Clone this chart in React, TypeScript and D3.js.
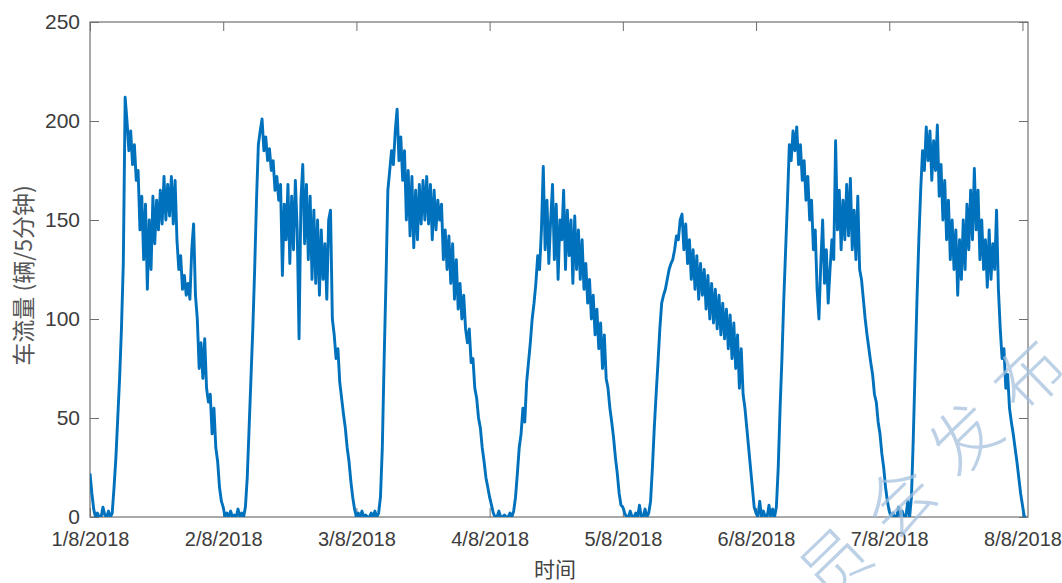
import { useEffect, useRef } from 'react'
import * as d3 from 'd3'

// 车流量 (辆/5分钟), every 20 minutes, one array per day
const day1 = [22, 12, 4, 0, 2, 0, 0, 5, 1, 0, 3, 0,
  2, 15, 30, 50, 70, 95, 128, 212, 200, 185,
  195, 178, 188, 170, 175, 145, 162, 130, 158, 115,
  150, 125, 162, 138, 160, 145, 165, 148, 172, 150,
  168, 152, 172, 148, 170, 140, 125, 132, 115, 122,
  112, 118, 110, 135, 148, 112, 100, 75, 88, 70,
  90, 65, 58, 62, 42, 55, 35, 28, 15, 8]
const day2 = [5, 0, 2, 0, 3, 0, 1, 0, 4, 0, 2, 0,
  5, 20, 45, 70, 95, 125, 160, 188, 195, 201,
  185, 192, 180, 186, 175, 180, 165, 172, 160, 168,
  122, 158, 140, 168, 128, 162, 135, 170, 145, 90,
  160, 178, 138, 168, 130, 162, 120, 155, 118, 150,
  112, 145, 120, 138, 110, 150, 155, 100, 92, 80,
  85, 68, 60, 52, 45, 35, 28, 18, 10, 4]
const day3 = [0, 2, 0, 3, 0, 1, 0, 0, 2, 0, 3, 0,
  2, 10, 35, 80, 120, 165, 175, 185, 178, 195,
  206, 180, 192, 170, 185, 150, 175, 142, 172, 136,
  165, 140, 168, 148, 170, 150, 172, 148, 168, 140,
  165, 145, 160, 150, 158, 130, 145, 125, 142, 118,
  138, 110, 130, 105, 118, 100, 112, 95, 88, 95,
  78, 80, 65, 60, 50, 45, 35, 28, 20, 15]
const day4 = [10, 6, 2, 0, 0, 3, 0, 0, 1, 0, 0, 2, 0, 3,
  10, 22, 35, 42, 55, 48, 68, 78,
  88, 100, 108, 118, 132, 125, 145, 177, 135, 160,
  128, 150, 168, 130, 158, 120, 150, 140, 165, 125,
  155, 132, 150, 118, 152, 125, 145, 120, 140, 115,
  128, 108, 120, 100, 112, 92, 105, 85, 98, 75,
  92, 70, 65, 55, 48, 40, 30, 22, 12, 6]
const day5 = [5, 2, 0, 0, 3, 0, 0, 2, 0, 6, 0, 0, 4, 0, 2,
  8, 25, 45, 62, 78, 95, 108,
  112, 115, 120, 125, 128, 130, 135, 142, 140, 150,
  153, 135, 148, 128, 140, 120, 135, 115, 132, 110,
  128, 112, 125, 105, 122, 100, 118, 98, 115, 95,
  112, 92, 108, 90, 105, 85, 102, 80, 98, 75,
  92, 65, 85, 62, 55, 45, 35, 25, 15, 5]
const day6 = [2, 0, 8, 0, 3, 0, 0, 6, 0, 4, 0,
  5, 25, 55, 80, 110, 135, 160, 188, 180, 195, 185,
  197, 178, 188, 170, 180, 160, 172, 150, 160, 135,
  145, 115, 100, 128, 150, 118, 135, 108, 125, 140,
  130, 190, 145, 165, 135, 160, 140, 168, 142, 171,
  135, 155, 130, 162, 125, 120, 110, 100, 92, 85,
  78, 72, 62, 58, 48, 42, 32, 25, 15, 8]
const day7 = [3, 0, 2, 0, 0, 5, 0, 3, 0, 0, 8, 0,
  10, 40, 75, 110, 140, 165, 185, 175, 197, 180,
  195, 170, 190, 175, 198, 162, 178, 150, 170, 140,
  160, 130, 150, 125, 145, 112, 140, 120, 150, 125,
  158, 135, 165, 140, 176, 145, 165, 130, 150, 125,
  140, 116, 145, 120, 138, 125, 155, 115, 95, 80,
  85, 65, 72, 55, 48, 42, 35, 28, 20, 12]
const day8 = [6, 0, 0]

const flow = [...day1, ...day2, ...day3, ...day4, ...day5, ...day6, ...day7, ...day8]
const yTicks = [0, 50, 100, 150, 200, 250]

export default function App() {
  const svgRef = useRef<SVGSVGElement>(null)

  useEffect(() => {
    if (!svgRef.current) return
    const svg = d3.select(svgRef.current)
    svg.selectAll('*').remove()

    const W = 1062
    const H = 583
    const margin = { top: 22, right: 34, bottom: 66, left: 90 }
    const width = W - margin.left - margin.right
    const height = H - margin.top - margin.bottom

    const start = new Date(2018, 7, 1, 0, 0)
    const end = new Date(2018, 7, 8, 1, 0)
    const points = flow.map((v, i) => ({ t: d3.timeMinute.offset(start, i * 20), v }))

    const x = d3.scaleTime().domain([start, end]).range([0, width])
    const y = d3.scaleLinear().domain([0, 250]).range([height, 0])

    const g = svg.append('g').attr('transform', `translate(${margin.left},${margin.top})`)

    g.append('clipPath').attr('id', 'plot-clip')
      .append('rect').attr('width', width).attr('height', height)

    const font = 'Liberation Sans, Arial, Helvetica, sans-serif'
    const tickColor = '#6e6e6e'
    const labelColor = '#3c3c3c'
    const dayTicks = d3.timeDay.range(start, d3.timeDay.offset(start, 8))
    const fmt = d3.timeFormat('%-d/%-m/%Y')

    // bottom axis with labels, ticks pointing inward
    const xAxis = g.append('g')
      .attr('transform', `translate(0,${height})`)
      .call(d3.axisBottom(x).tickValues(dayTicks).tickFormat(d => fmt(d as Date)).tickSize(-9).tickPadding(15))
    xAxis.select('.domain').remove()
    xAxis.selectAll('line').attr('stroke', tickColor)
    xAxis.selectAll('text')
      .style('font-family', font)
      .style('font-size', '20px')
      .style('fill', labelColor)

    // top axis, ticks only
    const xTop = g.append('g')
      .call(d3.axisTop(x).tickValues(dayTicks).tickFormat(() => '').tickSize(-9))
    xTop.select('.domain').remove()
    xTop.selectAll('line').attr('stroke', tickColor)

    const yAxis = g.append('g')
      .call(d3.axisLeft(y).tickValues(yTicks).tickSize(-9).tickPadding(10))
    yAxis.select('.domain').remove()
    yAxis.selectAll('line').attr('stroke', tickColor)
    yAxis.selectAll('text')
      .style('font-family', font)
      .style('font-size', '21px')
      .style('fill', labelColor)

    const yRight = g.append('g')
      .attr('transform', `translate(${width},0)`)
      .call(d3.axisRight(y).tickValues(yTicks).tickFormat(() => '').tickSize(-9))
    yRight.select('.domain').remove()
    yRight.selectAll('line').attr('stroke', tickColor)

    // axes box
    g.append('rect')
      .attr('width', width)
      .attr('height', height)
      .attr('fill', 'none')
      .attr('stroke', '#707070')
      .attr('stroke-width', 1.2)

    const line = d3.line<{ t: Date; v: number }>()
      .x(d => x(d.t))
      .y(d => y(d.v))

    g.append('path')
      .datum(points)
      .attr('clip-path', 'url(#plot-clip)')
      .attr('fill', 'none')
      .attr('stroke', '#0072BD')
      .attr('stroke-width', 2.9)
      .attr('stroke-linejoin', 'round')
      .attr('d', line)

    // axis titles
    const cjk = '"Noto Sans CJK SC", "Noto Sans", sans-serif'
    svg.append('text')
      .attr('transform', `translate(32,${margin.top + height / 2 + 6}) rotate(-90)`)
      .attr('text-anchor', 'middle')
      .style('font-family', cjk)
      .style('font-size', '23px')
      .style('fill', '#555')
      .text('车流量 (辆/5分钟)')

    svg.append('text')
      .attr('x', margin.left + width / 2 - 4)
      .attr('y', 577)
      .attr('text-anchor', 'middle')
      .style('font-family', cjk)
      .style('font-size', '21px')
      .style('fill', '#444')
      .text('时间')

    // faint watermark across the lower right corner
    svg.append('text')
      .attr('transform', 'translate(912,498) rotate(-44)')
      .attr('text-anchor', 'middle')
      .attr('dominant-baseline', 'middle')
      .style('font-family', cjk)
      .style('font-size', '68px')
      .style('font-weight', 300)
      .style('letter-spacing', '22px')
      .style('fill', '#a6c1de')
      .style('opacity', 0.75)
      .text('委员会发布')
  }, [])

  return (
    <svg
      ref={svgRef}
      width={1062}
      height={583}
      style={{ position: 'absolute', left: 0, top: 0, background: '#fff' }}
    />
  )
}
